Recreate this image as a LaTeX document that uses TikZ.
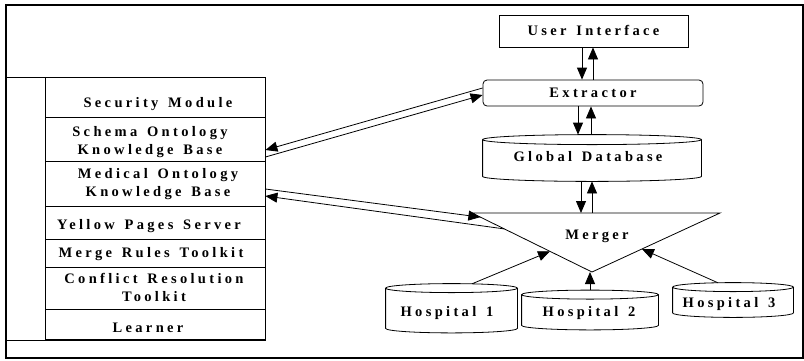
\documentclass[tikz,border=0pt]{standalone}
\usepackage{fontspec}
\newfontfamily\spfont{Liberation Serif}[LetterSpace=23, WordSpace=1.4]
\usetikzlibrary{arrows.meta,calc}
\newcommand\drawcyl[2]{%
  \path[draw] let \p1=(#1.north west), \p2=(#1.south east), \n1={(\x2-\x1)/2} in
    (#1.north) ellipse [x radius=\n1, y radius=#2pt]
    (\p1) -- (\x1,\y2) arc [start angle=180, end angle=360, x radius=\n1, y radius=#2pt] -- (\x2,\y1);}
\begin{document}
\begin{tikzpicture}[x=1pt, y=-1pt, line width=0.8pt,
  lbl/.style={font=\spfont\bfseries\fontsize{14.5}{18.3}\selectfont, inner sep=0pt, text height=9.6pt, text depth=0pt},
  lbltwo/.style={font=\spfont\bfseries\fontsize{14.5}{18.3}\selectfont, inner sep=0pt, align=center},
  rowbox/.style={draw, minimum width=220pt, inner sep=0pt},
  box/.style={draw, inner sep=0pt},
  cylbox/.style={inner sep=0pt},
  arr/.style={-{Triangle[length=12pt,width=10pt]}}]
\useasboundingbox (0,0) rectangle (804,360);
\draw[line width=1.4pt] (6,5) rectangle (803,358);
% left panel
\node[box, minimum width=259pt, minimum height=263pt] (panel) at (135.5,208.5) {};
\node[rowbox, minimum height=40pt] (sec) at (155,97) {};
\node[rowbox, minimum height=44pt] (schema) at (155,139) {};
\node[rowbox, minimum height=45pt] (medical) at (155,183.5) {};
\node[rowbox, minimum height=33pt] (yellow) at (155,222.5) {};
\node[rowbox, minimum height=28pt] (merge) at (155,253) {};
\node[rowbox, minimum height=42pt] (conflict) at (155,288) {};
\node[rowbox, minimum height=30.5pt] (learner) at (155,324.25) {};
\node[lbl] (tsec) at (158,102.3) {Security Module};
\node[lbltwo] (tschema) at (150,142.2) {Schema Ontology\\Knowledge Base};
\node[lbltwo] (tmed) at (158,183.9) {Medical Ontology\\Knowledge Base};
\node[lbl] (tyel) at (149,225) {Yellow Pages Server};
\node[lbl] (tmerge) at (151,252.7) {Merge Rules Toolkit};
\node[lbltwo] (tconf) at (154,287.3) {Conflict Resolution\\Toolkit};
\node[lbl] (tlearn) at (148,328) {Learner};
% right side
\node[box, lbl, minimum width=189pt, minimum height=32pt] (ui) at (593.5,31) {User Interface};
\node[box, lbl, rounded corners=4pt, minimum width=220pt, minimum height=26pt] (ex) at (593,93) {Extractor};
\node[cylbox, minimum width=218pt, minimum height=36pt] (gdb) at (592,158) {};
\drawcyl{gdb}{5}
\node[lbl] (tgdb) at (588,157) {Global Database};
\coordinate (mtl) at (472,213);
\coordinate (mtr) at (720,213);
\coordinate (mb) at (592,272);
\draw (mtl) -- (mtr) -- (mb) -- cycle;
\node[lbl] (merger) at (597,235) {Merger};
\node[cylbox, minimum width=131pt, minimum height=39.5pt] (h1) at (451.5,308.25) {};
\drawcyl{h1}{4.5}
\node[lbl] (th1) at (447,311.7) {Hospital 1};
\node[cylbox, minimum width=136pt, minimum height=30pt] (h2) at (590,310) {};
\drawcyl{h2}{4.5}
\node[lbl] (th2) at (589,311.7) {Hospital 2};
\node[cylbox, minimum width=120pt, minimum height=25pt] (h3) at (733,300) {};
\drawcyl{h3}{4.5}
\node[lbl] (th3) at (729,303) {Hospital 3};
% vertical arrows
\draw[arr] ($(ui.south)+(-11.5,0)$) -- ($(ex.north)+(-11,0)$);
\draw[arr] (ex.north) -- ($(ui.south)+(-0.5,0)$);
\draw[arr] ($(ex.south)+(-15,0)$) -- ($(gdb.north)+(-14,-5)$);
\draw[arr] ($(gdb.north)+(-1,-5)$) -- ($(ex.south)+(-2,0)$);
\draw[arr] ($(gdb.south)+(-11,5)$) -- ($(mtl)+(109,0)$);
\draw[arr] ($(mtl)+(120,0)$) -- ($(gdb.south)+(0,5)$);
% slanted double arrows
\draw[arr] ($(ex.west)+(0,-5)$) -- ($(schema.east)+(0,11)$);
\draw[arr] ($(schema.east)+(0,18)$) -- ($(ex.west)+(0,2)$);
\draw[arr] ($(medical.east)+(0,5.5)$) -- ($(mtl)!0.07!(mb)$);
\draw[arr] ($(mtl)!0.27!(mb)$) -- ($(medical.east)+(0,12.5)$);
% hospitals to merger
\draw[arr] ($(h1.north)+(20.5,-4.3)$) -- ($(mtl)!0.65!(mb)$);
\draw[arr] ($(h2.north)+(0,-4.5)$) -- (h2.north |- mb);
\draw[arr] ($(h3.north)+(-15,-4.3)$) -- ($(mb)!0.39!(mtr)$);
\end{tikzpicture}
\end{document}
